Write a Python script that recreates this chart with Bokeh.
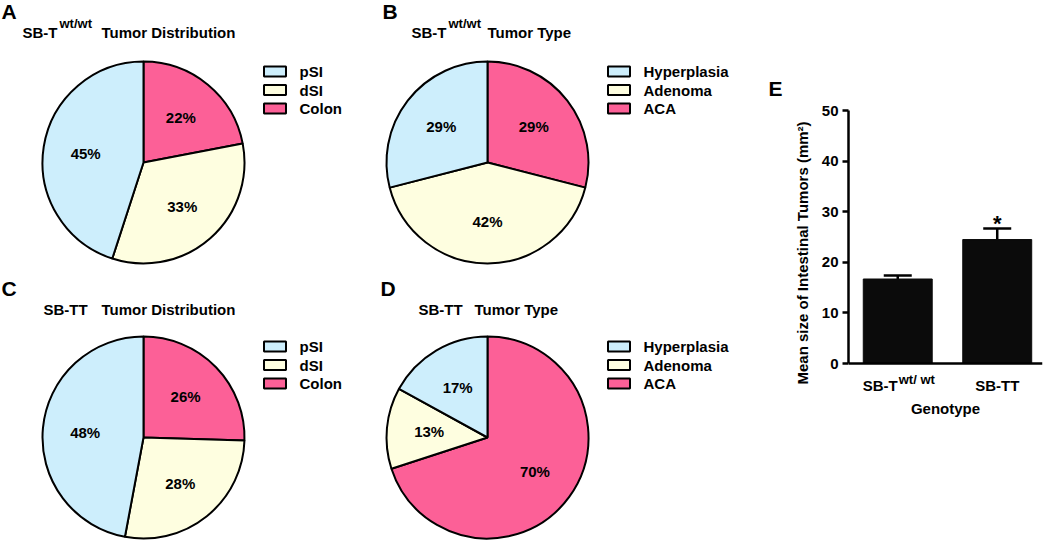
import math
from bokeh.plotting import figure
from bokeh.layouts import row, column
from bokeh.models import Range1d, ColumnDataSource, Whisker, TeeHead, FixedTicker, Span
from bokeh.core.properties import value
from bokeh.embed import file_html
from bokeh.resources import INLINE

FONT = "Liberation Sans"

# ---------------- data ----------------
dist_categories = ["pSI", "dSI", "Colon"]
dist_wt = [45, 33, 22]
dist_tt = [48, 28, 26]

type_categories = ["Hyperplasia", "Adenoma", "ACA"]
type_wt = [29, 42, 29]
type_tt = [17, 13, 70]

slice_colors = ["#CDEEFC", "#FEFEE0", "#FC6097"]

genotypes = ["SB-T", "SB-TT"]
genotype_sup = ["wt/ wt", ""]
mean_size = [16.7, 24.5]
sem_size = [0.7, 2.2]
significance = ["", "*"]
y_ticks = [0, 10, 20, 30, 40, 50]

RADIUS = 101


def add_text(p, x, y, txt, size, align="left", baseline="middle", **kw):
    p.text(x=[x], y=[y], text=[txt], text_font=value(FONT), text_font_style="bold",
           text_font_size=f"{size}px", text_align=align, text_baseline=baseline,
           text_color="black", **kw)


def pie_panel(width, height, cx, cy, letter, letter_pos, title_parts, title_y,
              categories, values, colors, extra_letter=None):
    p = figure(width=width, height=height, title=None,
               x_range=Range1d(-cx, width - cx),
               y_range=Range1d(-(height - cy), cy),
               output_backend="svg", toolbar_location=None,
               min_border=0, x_axis_location=None, y_axis_location=None)
    p.grid.visible = False
    p.outline_line_color = None

    total = float(sum(values))
    # slices drawn clockwise from 12 o'clock, last category first
    order = list(range(len(values)))[::-1]
    starts, ends, fills, mids, texts = [], [], [], [], []
    cum = 0.0
    for i in order:
        f0 = cum / total
        f1 = (cum + values[i]) / total
        cum += values[i]
        starts.append(math.pi / 2 - 2 * math.pi * f0)
        ends.append(math.pi / 2 - 2 * math.pi * f1)
        fills.append(colors[i])
        mids.append(math.pi / 2 - math.pi * (f0 + f1))
        texts.append(f"{values[i]}%")
    src = ColumnDataSource(dict(start=starts, end=ends, fill=fills))
    p.wedge(x=0, y=0, radius=RADIUS, start_angle="start", end_angle="end",
            direction="clock", fill_color="fill", line_color="black",
            line_width=2, source=src)
    lr = 0.58 * RADIUS
    p.text(x=[lr * math.cos(a) for a in mids], y=[lr * math.sin(a) for a in mids],
           text=texts, text_font=value(FONT), text_font_style="bold",
           text_font_size="15px", text_align="center", text_baseline="middle",
           text_color="black")

    # legend
    ly = [91 - 18.5 * k for k in range(len(categories))]
    p.rect(x=[131.5] * len(categories), y=ly, width=22, height=10,
           fill_color=colors, line_color="black", line_width=2)
    p.text(x=[156] * len(categories), y=ly, text=categories,
           text_font=value(FONT), text_font_style="bold", text_font_size="15px",
           text_align="left", text_baseline="middle", text_color="black")

    # title
    for txt, dx, size, dy in title_parts:
        add_text(p, dx, title_y + dy, txt, size)
    # panel letters
    add_text(p, letter_pos[0], letter_pos[1], letter, 21)
    if extra_letter:
        add_text(p, extra_letter[1], extra_letter[2], extra_letter[0], 21)
    return p


pA = pie_panel(375, 275, 143, 162, "A", (-142, 151),
               [("SB-T", -121, 15, 0), ("wt/wt", -84, 13, 9),
                ("Tumor Distribution", -42, 15, 0)], 130,
               dist_categories, dist_wt, slice_colors)
pB = pie_panel(415, 275, 112, 162, "B", (-105, 151),
               [("SB-T", -76, 15, 0), ("wt/wt", -39, 13, 9),
                ("Tumor Type", 0, 15, 0)], 130.5,
               type_categories, type_wt, slice_colors,
               extra_letter=("E", 281, 74.5))
pC = pie_panel(375, 265, 143, 162, "C", (-142, 149),
               [("SB-TT", -100, 15, 0), ("Tumor Distribution", -42, 15, 0)], 128,
               dist_categories, dist_tt, slice_colors)
pD = pie_panel(415, 265, 112, 162, "D", (-107, 149),
               [("SB-TT", -69, 15, 0), ("Tumor Type", -13, 15, 0)], 128,
               type_categories, type_tt, slice_colors)

# ---------------- bar chart E ----------------
xs = list(range(len(genotypes)))
pE = figure(width=260, height=540, title=None,
            x_range=Range1d(-0.495, 1.455), y_range=Range1d(-6.32, 50),
            output_backend="svg", toolbar_location=None,
            min_border_left=55, min_border_right=8,
            min_border_top=110, min_border_bottom=145)
pE.grid.visible = False
pE.outline_line_color = None
pE.vbar(x=xs, top=mean_size, width=0.693, fill_color="#0b0b0b",
        line_color="#0b0b0b")

upper = [m + s for m, s in zip(mean_size, sem_size)]
wsrc = ColumnDataSource(dict(x=xs, lower=mean_size, upper=upper))
pE.add_layout(Whisker(base="x", lower="lower", upper="upper", source=wsrc,
                      line_color="black", line_width=2.5, lower_head=None,
                      upper_head=TeeHead(size=28, line_color="black", line_width=2.5)))
pE.text(x=xs, y=upper, text=significance, y_offset=-5,
        text_font=value(FONT), text_font_style="bold",
        text_font_size="22px", text_align="center", text_baseline="middle",
        text_color="black")

# x axis line at zero
pE.add_layout(Span(location=0, dimension="width", line_color="black", line_width=2.5))

# category labels under the bars
for xi, g, s in zip(xs, genotypes, genotype_sup):
    if s:
        pE.text(x=[xi], y=[0], text=[g], y_offset=22, text_font=value(FONT),
                text_font_style="bold", text_font_size="15px", text_align="right",
                text_baseline="middle", text_color="black")
        pE.text(x=[xi], y=[0], text=[s], x_offset=1, y_offset=16,
                text_font=value(FONT), text_font_style="bold",
                text_font_size="13px", text_align="left",
                text_baseline="middle", text_color="black")
    else:
        pE.text(x=[xi], y=[0], text=[g], y_offset=22, text_font=value(FONT),
                text_font_style="bold", text_font_size="15px", text_align="center",
                text_baseline="middle", text_color="black")

yax = pE.yaxis[0]
yax.ticker = FixedTicker(ticks=y_ticks)
yax.bounds = (0, 50)
yax.axis_line_width = 2.5
yax.major_tick_line_width = 2.5
yax.major_tick_out = 6
yax.major_tick_in = 0
yax.minor_tick_out = 0
yax.minor_tick_in = 0
yax.major_label_standoff = 4
yax.major_label_text_font = FONT
yax.major_label_text_font_style = "bold"
yax.major_label_text_font_size = "15px"
yax.major_label_text_color = "black"
yax.axis_label = "Mean size of Intestinal Tumors (mm²)"
yax.axis_label_text_font = FONT
yax.axis_label_text_font_style = "bold"
yax.axis_label_text_font_size = "15px"
yax.axis_label_text_color = "black"
yax.axis_label_standoff = 8

xax = pE.xaxis[0]
xax.ticker = FixedTicker(ticks=[])
xax.axis_line_color = None
xax.major_tick_out = 0
xax.major_tick_in = 0
xax.minor_tick_out = 0
xax.minor_tick_in = 0
xax.axis_label = "Genotype"
xax.axis_label_text_font = FONT
xax.axis_label_text_font_style = "bold"
xax.axis_label_text_font_size = "15px"
xax.axis_label_text_color = "black"
xax.axis_label_standoff = 4

layout = row(column(row(pA, pB), row(pC, pD)), pE)
open("out.html", "w").write(file_html(layout, INLINE))
